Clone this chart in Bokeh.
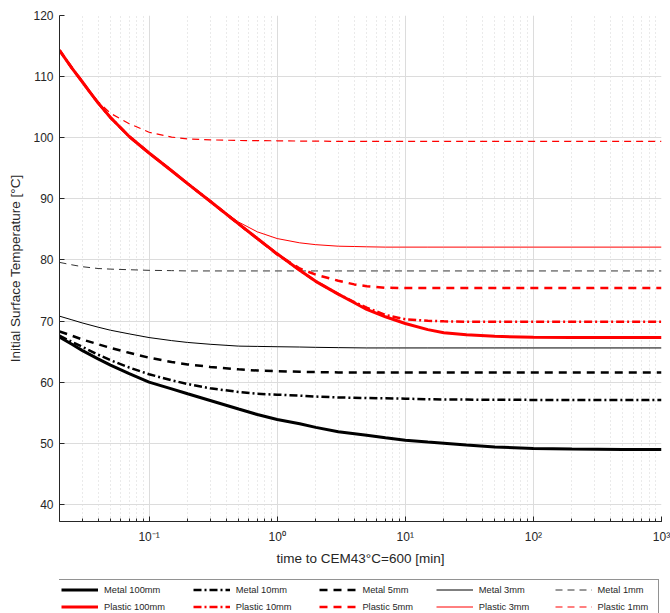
from bokeh.plotting import figure
from bokeh.layouts import column
from bokeh.models import (Range1d, FixedTicker, CustomJSTickFormatter, Legend, LegendItem)
from bokeh.embed import file_html
from bokeh.resources import INLINE

# ---------------- data ----------------
x_metal = [0.02, 0.025, 0.03, 0.04, 0.05, 0.07, 0.1, 0.15, 0.2, 0.3, 0.5, 0.7, 1, 1.5, 2, 3, 5, 7, 10, 15, 20, 30, 50, 100, 200, 500, 1000]
metal_100 = [67.4, 66.2, 65.2, 63.8, 62.8, 61.4, 60.0, 58.9, 58.1, 57.0, 55.6, 54.7, 53.9, 53.2, 52.6, 51.9, 51.3, 50.9, 50.5, 50.2, 50.0, 49.7, 49.4, 49.15, 49.05, 49.0, 49.0]
metal_10 = [67.6, 66.6, 65.8, 64.5, 63.6, 62.4, 61.3, 60.3, 59.7, 59.0, 58.4, 58.1, 57.95, 57.8, 57.65, 57.5, 57.4, 57.35, 57.3, 57.2, 57.18, 57.15, 57.12, 57.1, 57.1, 57.1, 57.1]
metal_5 = [68.3, 67.6, 67.0, 66.2, 65.6, 64.8, 64.0, 63.3, 62.9, 62.5, 62.1, 61.9, 61.8, 61.7, 61.65, 61.6, 61.6, 61.6, 61.6, 61.6, 61.6, 61.6, 61.6, 61.6, 61.6, 61.6, 61.6]
metal_3 = [70.8, 70.2, 69.7, 69.0, 68.5, 67.9, 67.3, 66.8, 66.5, 66.2, 65.9, 65.85, 65.8, 65.75, 65.7, 65.65, 65.6, 65.6, 65.6, 65.6, 65.6, 65.6, 65.6, 65.6, 65.6, 65.6, 65.6]
metal_1 = [79.6, 79.2, 78.9, 78.6, 78.5, 78.4, 78.3, 78.25, 78.2, 78.2, 78.2, 78.2, 78.2, 78.2, 78.2, 78.2, 78.2, 78.2, 78.2, 78.2, 78.2, 78.2, 78.2, 78.2, 78.2, 78.2, 78.2]

x_plastic = [0.02, 0.025, 0.03, 0.035, 0.04, 0.05, 0.07, 0.1, 0.15, 0.2, 0.3, 0.5, 0.7, 1, 1.5, 2, 3, 4, 5, 7, 10, 15, 20, 30, 50, 100, 200, 500, 1000]
plastic_100 = [114.3, 111.4, 109.2, 107.3, 105.7, 103.3, 100.2, 97.5, 94.6, 92.5, 89.6, 85.9, 83.5, 81.0, 78.3, 76.5, 74.4, 73.0, 71.9, 70.7, 69.6, 68.6, 68.1, 67.75, 67.5, 67.35, 67.3, 67.3, 67.3]
plastic_10 = [114.3, 111.4, 109.2, 107.3, 105.7, 103.3, 100.2, 97.5, 94.6, 92.5, 89.6, 85.9, 83.5, 81.0, 78.3, 76.5, 74.4, 73.1, 72.2, 71.0, 70.3, 70.05, 69.95, 69.9, 69.9, 69.9, 69.9, 69.9, 69.9]
plastic_5 = [114.3, 111.4, 109.2, 107.3, 105.7, 103.3, 100.2, 97.5, 94.6, 92.5, 89.6, 85.9, 83.5, 80.9, 78.6, 77.6, 76.6, 76.0, 75.7, 75.45, 75.4, 75.4, 75.4, 75.4, 75.4, 75.4, 75.4, 75.4, 75.4]
plastic_3 = [114.3, 111.4, 109.2, 107.3, 105.7, 103.3, 100.2, 97.5, 94.6, 92.5, 89.6, 86.2, 84.6, 83.5, 82.8, 82.5, 82.25, 82.2, 82.15, 82.1, 82.1, 82.1, 82.1, 82.1, 82.1, 82.1, 82.1, 82.1, 82.1]
plastic_1 = [114.3, 111.4, 109.2, 107.4, 105.9, 104.0, 102.3, 100.9, 100.1, 99.8, 99.65, 99.55, 99.52, 99.5, 99.45, 99.45, 99.4, 99.4, 99.4, 99.4, 99.4, 99.4, 99.4, 99.4, 99.4, 99.4, 99.4, 99.4, 99.4]

y_ticks = [40, 50, 60, 70, 80, 90, 100, 110, 120]
x_label = "time to CEM43\u00b0C=600 [min]"
y_label = "Initial Surface Temperature [\u00b0C]"
metal_labels = ["Metal 100mm", "Metal 10mm", "Metal 5mm", "Metal 3mm", "Metal 1mm"]
plastic_labels = ["Plastic 100mm", "Plastic 10mm", "Plastic 5mm", "Plastic 3mm", "Plastic 1mm"]

FONT = "Liberation Sans"
TXT = "#262626"

p = figure(width=670, height=568, x_axis_type="log",
           x_range=Range1d(0.02, 1000), y_range=Range1d(37.2, 120),
           output_backend="svg", toolbar_location=None,
           min_border_left=59, min_border_right=9, min_border_top=15, min_border_bottom=45)
p.outline_line_color = None
p.background_fill_color = "white"

# grids
for g in (p.xgrid, p.ygrid):
    g.grid_line_color = "#dcdcdc"
    g.grid_line_width = 1
p.xgrid.minor_grid_line_color = "#d4d4d4"
p.xgrid.minor_grid_line_dash = "1 3"

# axes
p.yaxis.ticker = FixedTicker(ticks=y_ticks)
p.xaxis.formatter = CustomJSTickFormatter(code="""
const sup = {'-':'\u207b','0':'\u2070','1':'\u00b9','2':'\u00b2','3':'\u00b3','4':'\u2074','5':'\u2075','6':'\u2076','7':'\u2077','8':'\u2078','9':'\u2079'};
const e = Math.round(Math.log10(tick));
return '10' + String(e).split('').map(c => sup[c]).join('');
""")
for ax in (p.xaxis, p.yaxis):
    ax.axis_line_color = TXT
    ax.major_tick_line_color = TXT
    ax.minor_tick_line_color = TXT
    ax.major_tick_in = 5
    ax.major_tick_out = 0
    ax.minor_tick_in = 3
    ax.minor_tick_out = 0
    ax.major_label_text_font = FONT
    ax.major_label_text_font_size = "12px"
    ax.major_label_text_color = TXT
    ax.axis_label_text_font = FONT
    ax.axis_label_text_font_size = "13.5px"
    ax.axis_label_text_font_style = "normal"
    ax.axis_label_text_color = TXT
p.yaxis.minor_tick_line_color = None
p.xaxis.axis_label = x_label
p.yaxis.axis_label = y_label
p.xaxis.major_label_standoff = 8
p.yaxis.major_label_standoff = 6
p.xaxis.axis_label_standoff = 4
p.yaxis.axis_label_standoff = 7

# series styles: color, width, dash
styles = {
    "m100": ("black", 3, "solid"), "m10": ("black", 2.5, "8 3 2 3"), "m5": ("black", 2.5, "8 6"),
    "m3": ("black", 1, "solid"), "m1": ("#333333", 1, "7 5"),
    "p100": ("red", 3, "solid"), "p10": ("red", 2.5, "8 3 2 3"), "p5": ("red", 2.5, "8 6"),
    "p3": ("red", 1, "solid"), "p1": ("red", 1.2, "7 5"),
}
series = {"m100": (x_metal, metal_100), "m10": (x_metal, metal_10), "m5": (x_metal, metal_5),
          "m3": (x_metal, metal_3), "m1": (x_metal, metal_1),
          "p1": (x_plastic, plastic_1), "p3": (x_plastic, plastic_3), "p5": (x_plastic, plastic_5),
          "p10": (x_plastic, plastic_10), "p100": (x_plastic, plastic_100)}
for key, (xs, ys) in series.items():
    c, w, d = styles[key]
    p.line(xs, ys, color=c, line_width=w, line_dash=d)

# ---------------- legend strip (small figure below the plot) ----------------
p2 = figure(width=670, height=45, x_range=Range1d(0, 1), y_range=Range1d(0, 1),
            output_backend="svg", toolbar_location=None, min_border=0,
            x_axis_location=None, y_axis_location=None)
p2.outline_line_color = None
p2.xgrid.visible = False
p2.ygrid.visible = False

# legend proxies: same series drawn in the strip, whose ranges keep them out of view
proxy = {}
for key, (xs, ys) in series.items():
    c, w, d = styles[key]
    proxy[key] = p2.line(xs, ys, color=c, line_width=w, line_dash=d)

# trailing spaces widen each legend column to the reference's spacing
pads = [10, 10, 8, 9, 3]
keys = ["100", "10", "5", "3", "1"]
items = []
for ml, pl, k, n in zip(metal_labels, plastic_labels, keys, pads):
    items.append(LegendItem(label=ml, renderers=[proxy["m" + k]]))
    items.append(LegendItem(label=pl + " " * n, renderers=[proxy["p" + k]]))

legend = Legend(items=items, orientation="vertical", nrows=2,
                label_text_font=FONT, label_text_font_size="9.3px", label_text_color=TXT,
                glyph_width=37, glyph_height=15, label_standoff=6, spacing=2,
                padding=2, margin=0, border_line_color="#262626", border_line_width=1,
                label_height=15, location=(-1, -4))
p2.add_layout(legend, "center")

layout = column(p, p2)
open("out.html", "w").write(file_html(layout, INLINE))
